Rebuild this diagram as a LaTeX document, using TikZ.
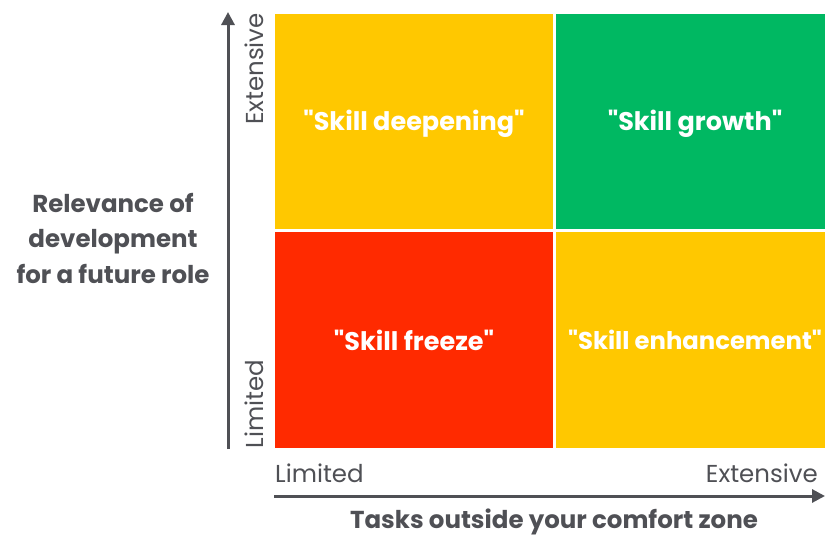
\documentclass[tikz,border=0pt]{standalone}
\usepackage{fontspec}
\setmainfont{Poppins}
\usetikzlibrary{arrows.meta}
\definecolor{qyellow}{HTML}{FFC800}
\definecolor{qgreen}{HTML}{00B862}
\definecolor{qred}{HTML}{FF2A00}
\definecolor{axgray}{HTML}{4F5055}
\begin{document}
\begin{tikzpicture}[x=1pt,y=-1pt,
  quad/.style={draw=none,inner sep=0pt,anchor=north west},
  qlabel/.style={text=white,inner sep=0pt,font=\fontsize{25.5}{28}\selectfont\bfseries},
  axlabel/.style={text=axgray,font=\fontsize{24.5}{28}\selectfont},
  title/.style={text=axgray,font=\fontsize{24.5}{35.5}\selectfont\bfseries,align=center},
  axis/.style={draw=axgray,line width=3pt,-{Triangle[length=13pt,width=13pt]}}]
\useasboundingbox (0,0) rectangle (825,538);
\node[quad,fill=qyellow,minimum width=278pt,minimum height=215pt] (tl) at (275,14) {};
\node[quad,fill=qgreen,minimum width=269pt,minimum height=215pt] (tr) at (556,14) {};
\node[quad,fill=qred,minimum width=278pt,minimum height=216pt] (bl) at (275,232) {};
\node[quad,fill=qyellow,minimum width=269pt,minimum height=216pt] (br) at (556,232) {};
\node[qlabel] (ltl) at (414,124) {\textquotedbl Skill deepening\textquotedbl};
\node[qlabel] (ltr) at (695,124) {\textquotedbl Skill growth\textquotedbl};
\node[qlabel] (lbl) at (414,340) {\textquotedbl Skill freeze\textquotedbl};
\node[qlabel,font=\fontsize{24.3}{28}\selectfont\bfseries] (lbr) at (695,340) {\textquotedbl Skill enhancement\textquotedbl};
\coordinate (vb) at (228,449);
\coordinate (vt) at (228,12);
\draw[axis] (vb) -- (vt);
\coordinate (hl) at (274,496);
\coordinate (hr) at (825,496);
\draw[axis] (hl) -- (hr);
\node[axlabel,rotate=90] (yext) at (254,69) {Extensive};
\node[axlabel,rotate=90] (ylim) at (254,404) {Limited};
\node[axlabel,anchor=west,inner sep=0pt] (xlim) at (275,473) {Limited};
\node[axlabel,anchor=east,inner sep=0pt] (xext) at (818,473) {Extensive};
\node[title] (ytitle) at (113,238) {Relevance of\\development\\for a future role};
\node[title] (xtitle) at (554,522) {Tasks outside your comfort zone};
\end{tikzpicture}
\end{document}
